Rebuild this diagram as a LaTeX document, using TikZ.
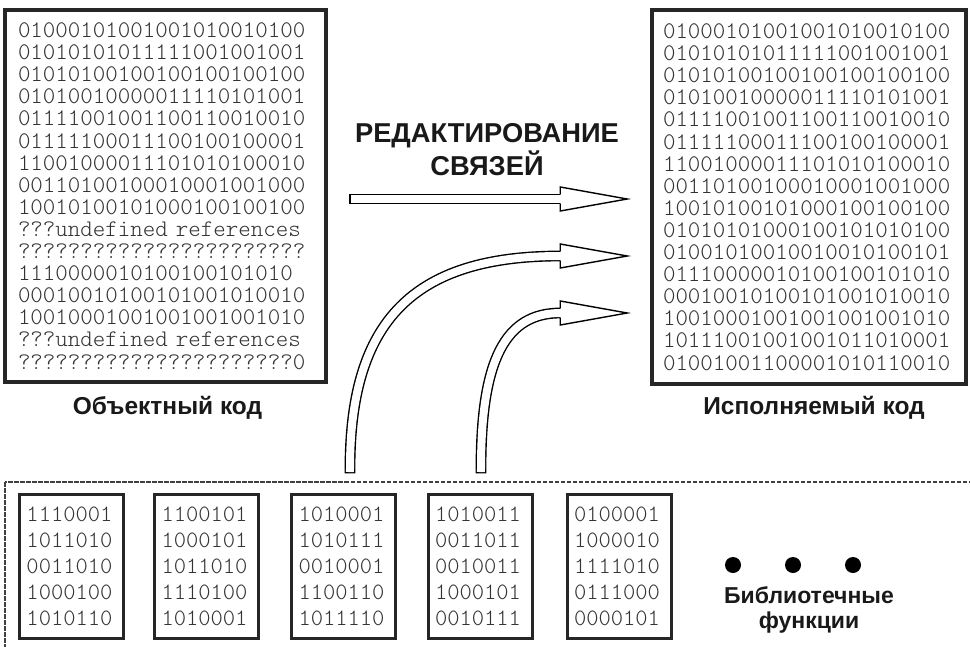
\documentclass[tikz,border=0pt]{standalone}
\usepackage{fontspec}
\setmainfont{Liberation Sans}
\newfontfamily\binfont{Latin Modern Mono Light}
\usepackage{tikz}
\usetikzlibrary{calc}
\usetikzlibrary{positioning}

\begin{document}
\begin{tikzpicture}[x=1pt, y=-1pt,
        bigbox/.style={draw=black!85, line width=3.5pt, inner ysep=0pt, align=left, text=black!80,
            font=\binfont\fontsize{23.8pt}{22.1pt}\selectfont},
        libbox/.style={draw=black!85, line width=3pt, inner xsep=7pt, inner ysep=0pt,
            minimum width=104pt, minimum height=144pt, text width=90pt, align=left, text=black!80,
            font=\binfont\fontsize{23.4pt}{26pt}\selectfont},
        boldtext/.style={align=center, text=black!90, font=\bfseries\fontsize{24.5pt}{25pt}\selectfont},
        shaft/.style={line width=1.4pt, double=white, double distance=8pt, line cap=rect},
        arrowhead/.style={line width=1.4pt, fill=white, line join=miter},
        libdot/.style={circle, fill=black, inner sep=0pt, minimum size=16pt}]
        \useasboundingbox (0,0) rectangle (970,646);
        % object and executable code
        \node[bigbox, inner xsep=13pt, text width=295pt, minimum height=372pt] (objcode) at (165.5,196) {%
            01000101001001010010100\\
            01010101011111001001001\\
            01010100100100100100100\\
            01010010000011110101001\\
            01111001001100110010010\\
            01111100011100100100001\\
            11001000011101010100010\\
            00110100100010001001000\\
            10010100101000100100100\\
            ???undefined references\\
            ???????????????????????\\
            1110000010100100101010\\
            00010010100101001010010\\
            10010001001001001001010\\
            ???undefined references\\
            ??????????????????????0};
        \node[bigbox, inner xsep=11pt, text width=292pt, minimum height=374pt] (execcode) at (809,197) {%
            01000101001001010010100\\
            01010101011111001001001\\
            01010100100100100100100\\
            01010010000011110101001\\
            01111001001100110010010\\
            01111100011100100100001\\
            11001000011101010100010\\
            00110100100010001001000\\
            10010100101000100100100\\
            01010101000100101010100\\
            01001010010010010100101\\
            01110000010100100101010\\
            00010010100101001010010\\
            10010001001001001001010\\
            10111001001001011010001\\
            01001001100001010110010};
        \node[boldtext, anchor=base] (objlabel) at ($(objcode.south)+(2,31)$) {Объектный код};
        \node[boldtext, anchor=base] (execlabel) at ($(execcode.south)+(5,29)$) {Исполняемый код};
        \node[boldtext, font=\bfseries\fontsize{27.3pt}{33pt}\selectfont] (linkedit)
            at ($(objcode.east)!0.5!(execcode.west)+(-2,-47)$) {РЕДАКТИРОВАНИЕ\\СВЯЗЕЙ};
        % library functions
        \draw[line width=1.3pt, black!75, dash pattern=on 4.5pt off 1.5pt] (5,482) rectangle (1000,700);
        \node[libbox] (lib1) at (71.5,566) {1110001\\1011010\\0011010\\1000100\\1010110};
        \node[libbox] (lib2) at (206.5,566) {1100101\\1000101\\1011010\\1110100\\1010001};
        \node[libbox] (lib3) at (343.5,566) {1010001\\1010111\\0010001\\1100110\\1011110};
        \node[libbox] (lib4) at (480,566) {1010011\\0011011\\0010011\\1000101\\0010111};
        \node[libbox] (lib5) at (619,566) {0100001\\1000010\\1111010\\0111000\\0000101};
        \node[libdot] (dot1) at (733,565) {};
        \node[libdot] (dot2) at (793,565) {};
        \node[libdot] (dot3) at (853,565) {};
        \node[boldtext, font=\bfseries\fontsize{23pt}{25pt}\selectfont] (libname) at (809,610) {Библиотечные\\функции};
        % arrows
        \coordinate (tailA) at ($(objcode.east)+(27,3)$);
        \coordinate (tipA) at ($(execcode.west)+(-23,2)$);
        \coordinate (baseA) at ($(tipA)+(-67,0)$);
        \coordinate (tailB) at ($(lib3.north)+(6.5,-24.5)$);
        \coordinate (tipB) at ($(execcode.west)+(-23,59)$);
        \coordinate (baseB) at ($(tipB)+(-67,0)$);
        \coordinate (tailC) at ($(lib4.north)+(1,-24.5)$);
        \coordinate (tipC) at ($(execcode.west)+(-23,116)$);
        \coordinate (baseC) at ($(tipC)+(-67,0)$);
        \draw[shaft] (tailA) -- (baseA);
        \draw[shaft] (tailB) .. controls ($(tailB)+(0,-147)$) and ($(baseB)+(-147,0)$) .. (baseB);
        \draw[shaft] (tailC) .. controls ($(tailC)+(0,-108)$) and ($(baseC)+(-55,0)$) .. (baseC);
        \filldraw[arrowhead] ($(baseA)+(0,-4.7)$) -- ++(0,-7.3) -- (tipA) -- ($(baseA)+(0,12)$) -- ++(0,-7.3);
        \filldraw[arrowhead] ($(baseB)+(0,-4.7)$) -- ++(0,-7.3) -- (tipB) -- ($(baseB)+(0,12)$) -- ++(0,-7.3);
        \filldraw[arrowhead] ($(baseC)+(0,-4.7)$) -- ++(0,-7.3) -- (tipC) -- ($(baseC)+(0,12)$) -- ++(0,-7.3);
\end{tikzpicture}
\end{document}
